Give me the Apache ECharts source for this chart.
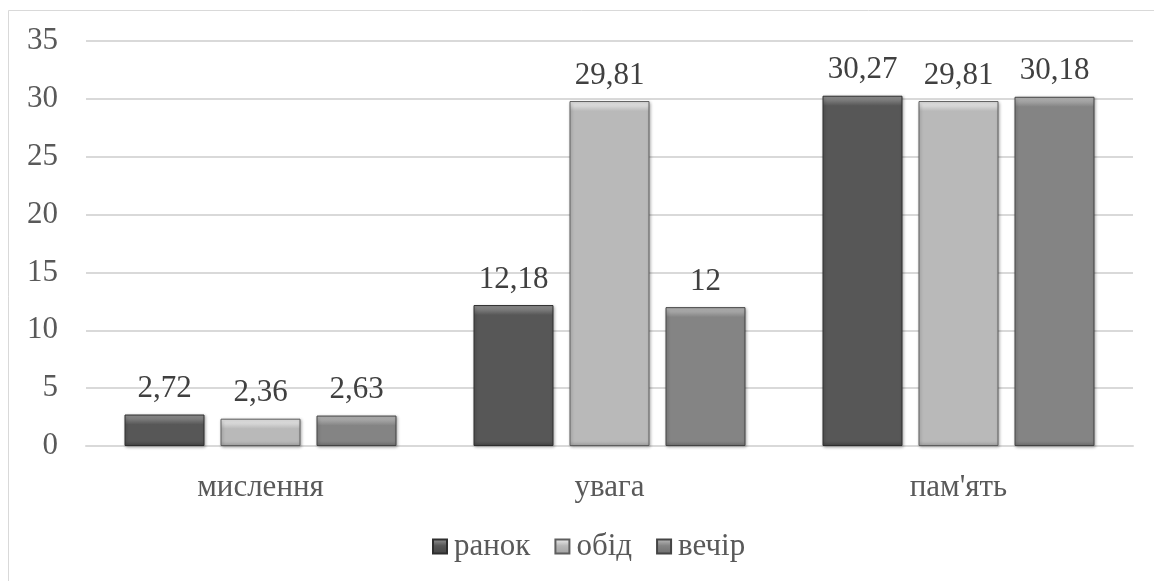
<!DOCTYPE html>
<html>
<head>
<meta charset="utf-8">
<script src="https://cdn.jsdelivr.net/npm/echarts@6/dist/echarts.min.js"></script>
<style>
  html, body { margin: 0; padding: 0; background: #fff; }
  #chart { width: 1154px; height: 581px; }
</style>
</head>
<body>
<div id="chart"></div>
<script>
// Categories, series names and values
const categories = ['мислення', 'увага', "пам'ять"];
const seriesNames = ['ранок', 'обід', 'вечір'];
const morning = [2.72, 12.18, 30.27];
const lunch = [2.36, 29.81, 29.81];
const evening = [2.63, 12, 30.18];
const yTicks = { min: 0, max: 35, interval: 5 };

const FONT = "Liberation Serif";
const FONT_SIZE = 31;

// Bevelled grey fills: [highlight, body, bottom shade, border]
const shades = [
  ['#9a9a9a', '#575757', '#444444', '#2e2e2e'],
  ['#f2f2f2', '#b9b9b9', '#a2a2a2', '#5e5e5e'],
  ['#c0c0c0', '#848484', '#6e6e6e', '#444444']
];

const grid = { left: 86, right: 21, top: 41, bottom: 135 };
const plotHeight = 581 - grid.top - grid.bottom;
const pxPerUnit = plotHeight / (yTicks.max - yTicks.min);

// Vertical gradient giving each bar a fixed-height light top edge
function bevel(s, v) {
  const h = Math.max(v * pxPerUnit, 1);
  const top = Math.min(0.4, 10 / h);
  const bot = Math.max(0.6, 1 - 5 / h);
  return new echarts.graphic.LinearGradient(0, 0, 0, 1, [
    { offset: 0, color: s[0] },
    { offset: top, color: s[1] },
    { offset: bot, color: s[1] },
    { offset: 1, color: s[2] }
  ]);
}

function makeSeries(name, values, idx) {
  const s = shades[idx];
  return {
    name: name,
    type: 'bar',
    barWidth: 80,
    barGap: '20%',
    itemStyle: {
      color: new echarts.graphic.LinearGradient(0, 0, 0, 1, [
        { offset: 0, color: s[0] }, { offset: 0.45, color: s[1] }, { offset: 1, color: s[2] }
      ]),
      borderColor: s[3],
      borderWidth: 1,
      shadowColor: 'rgba(0,0,0,0.3)',
      shadowBlur: 3,
      shadowOffsetX: 1,
      shadowOffsetY: 1
    },
    label: {
      show: true,
      position: 'top',
      distance: 10,
      fontFamily: FONT,
      fontSize: FONT_SIZE,
      color: '#404040',
      formatter: p => String(p.value).replace('.', ',')
    },
    data: values.map(v => ({ value: v, itemStyle: { color: bevel(s, v) } }))
  };
}

const chart = echarts.init(document.getElementById('chart'), null, { renderer: 'canvas' });
chart.setOption({
  animation: false,
  backgroundColor: '#ffffff',
  graphic: [{
    type: 'rect',
    shape: { x: 8.5, y: 10.5, width: 1300, height: 700 },
    style: { fill: 'none', stroke: '#d9d9d9', lineWidth: 1 },
    silent: true,
    z: -1
  }],
  grid: grid,
  legend: {
    bottom: 14,
    left: 427,
    itemWidth: 14,
    itemHeight: 14,
    itemGap: 24,
    icon: 'rect',
    textStyle: { fontFamily: FONT, fontSize: FONT_SIZE, color: '#595959', padding: [0, 0, 0, 2] },
    data: seriesNames
  },
  xAxis: {
    type: 'category',
    data: categories,
    axisLine: { lineStyle: { color: '#d9d9d9', width: 2 } },
    axisTick: { show: false },
    axisLabel: { fontFamily: FONT, fontSize: FONT_SIZE, color: '#595959', margin: 26 }
  },
  yAxis: {
    type: 'value',
    min: yTicks.min,
    max: yTicks.max,
    interval: yTicks.interval,
    axisLine: { show: false },
    axisTick: { show: false },
    splitLine: { lineStyle: { color: '#d9d9d9', width: 2 } },
    axisLabel: { fontFamily: FONT, fontSize: FONT_SIZE, color: '#595959', margin: 28 }
  },
  series: [
    makeSeries(seriesNames[0], morning, 0),
    makeSeries(seriesNames[1], lunch, 1),
    makeSeries(seriesNames[2], evening, 2)
  ]
});
</script>
</body>
</html>
